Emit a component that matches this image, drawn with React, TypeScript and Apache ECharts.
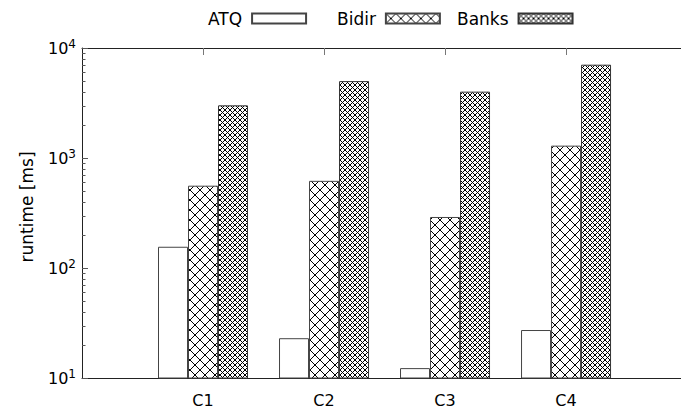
import React, { useEffect, useRef } from "react";
import * as echarts from "echarts";

const categories = ["C1", "C2", "C3", "C4"];
const categoryPositions = [1, 2, 3, 4];
const seriesNames = ["ATQ", "Bidir", "Banks"];
const atqValues = [156, 23, 12.3, 27.3];
const bidirValues = [560, 620, 291, 1295];
const banksValues = [3010, 5000, 4010, 7050];
const minorTickValues = [
  20, 30, 40, 50, 60, 70, 80, 90,
  200, 300, 400, 500, 600, 700, 800, 900,
  2000, 3000, 4000, 5000, 6000, 7000, 8000, 9000,
];
const Y_MIN = 10;
const Y_MAX = 10000;
const X_MIN = 0;
const X_MAX = 4.95;

const FONT = "DejaVu Sans";

function makeHatch(period: number) {
  const c = document.createElement("canvas");
  c.width = period;
  c.height = period;
  const ctx = c.getContext("2d")!;
  ctx.fillStyle = "#ffffff";
  ctx.fillRect(0, 0, period, period);
  ctx.strokeStyle = "#000000";
  ctx.lineWidth = 1;
  ctx.beginPath();
  for (const k of [-1, 0, 1]) {
    ctx.moveTo(k * period, 0);
    ctx.lineTo(k * period + period, period);
    ctx.moveTo(k * period + period, 0);
    ctx.lineTo(k * period, period);
  }
  ctx.stroke();
  return { image: c, repeat: "repeat", imageWidth: period, imageHeight: period };
}

export default function App() {
  const ref = useRef<HTMLDivElement>(null);
  useEffect(() => {
    document.body.style.margin = "0";
    const chart = echarts.init(ref.current!, undefined, { renderer: "svg" });
    const wide = makeHatch(10);
    const fine = makeHatch(5);
    const legendCommon = {
      top: 10,
      padding: 0,
      align: "right",
      icon: "rect",
      itemWidth: 54,
      itemHeight: 10,
      textStyle: { fontFamily: FONT, fontSize: 17, color: "#000", padding: [0, 5, 0, 0] },
    };
    const barCommon = {
      type: "bar",
      xAxisIndex: 0,
      barWidth: 30,
      barGap: "0%",
      clip: true,
    };
    const toPairs = (vals: number[]) => categoryPositions.map((x, i) => [x, vals[i]]);
    const tickLabel = (v: number) => {
      const i = categoryPositions.indexOf(v);
      return i >= 0 ? categories[i] : "";
    };
    const option: any = {
      animation: false,
      backgroundColor: "#fff",
      legend: [
        { ...legendCommon, left: 208, data: [seriesNames[0]] },
        { ...legendCommon, left: 337, data: [seriesNames[1]] },
        { ...legendCommon, left: 457, data: [seriesNames[2]] },
      ],
      grid: { left: 82, top: 48, right: 0, height: 330, containLabel: false },
      xAxis: [
        {
          type: "value",
          position: "bottom",
          min: X_MIN,
          max: X_MAX,
          interval: 1,
          axisLine: { show: true, lineStyle: { color: "#222", width: 1 } },
          axisTick: { show: false },
          splitLine: { show: false },
          axisLabel: {
            margin: 14,
            fontFamily: FONT,
            fontSize: 16,
            color: "#000",
            showMaxLabel: false,
            formatter: tickLabel,
          },
        },
        {
          type: "value",
          position: "top",
          min: X_MIN,
          max: X_MAX,
          interval: 1,
          axisLine: { show: true, onZero: false, lineStyle: { color: "#222", width: 1 } },
          axisTick: { show: false },
          splitLine: { show: false },
          axisLabel: { show: false },
        },
      ],
      yAxis: {
        type: "log",
        logBase: 10,
        min: Y_MIN,
        max: Y_MAX,
        axisLine: { show: true, lineStyle: { color: "#222", width: 1 } },
        axisTick: { show: true, inside: true, length: 6, lineStyle: { color: "#555" } },
        splitLine: { show: false },
        minorTick: { show: false },
        axisLabel: {
          margin: 6,
          formatter: (v: number) => `{b|10}{e|${Math.round(Math.log10(v))}}`,
          rich: {
            b: { fontFamily: FONT, fontSize: 16, color: "#000", lineHeight: 20 },
            e: { fontFamily: FONT, fontSize: 12, color: "#000", lineHeight: 12, verticalAlign: "top" },
          },
        },
      },
      graphic: [
        {
          type: "text",
          x: 27,
          y: 207,
          rotation: Math.PI / 2,
          style: {
            text: "runtime [ms]",
            fontFamily: FONT,
            fontSize: 17,
            fill: "#000",
            align: "center",
            verticalAlign: "middle",
          },
        },
      ],
      series: [
        {
          ...barCommon,
          name: seriesNames[0],
          data: toPairs(atqValues),
          itemStyle: { color: "#ffffff", borderColor: "#444", borderWidth: 1 },
        },
        {
          ...barCommon,
          name: seriesNames[1],
          data: toPairs(bidirValues),
          itemStyle: { color: wide, borderColor: "#444", borderWidth: 1 },
        },
        {
          ...barCommon,
          name: seriesNames[2],
          data: toPairs(banksValues),
          itemStyle: { color: fine, borderColor: "#333", borderWidth: 1 },
        },
        {
          type: "custom",
          name: "minorTicks",
          xAxisIndex: 0,
          silent: true,
          z: 5,
          data: minorTickValues.map((v) => [X_MIN, v]),
          renderItem: (params: any, api: any) => {
            const p = api.coord([X_MIN, api.value(1)]);
            const y = Math.round(p[1]) + 0.5;
            return {
              type: "line",
              shape: { x1: p[0], y1: y, x2: p[0] + 3.5, y2: y },
              style: { stroke: "#555", lineWidth: 1 },
            };
          },
        },
        {
          type: "custom",
          name: "topTicks",
          xAxisIndex: 0,
          silent: true,
          z: 5,
          data: categoryPositions.map((x) => [x, Y_MAX]),
          renderItem: (params: any, api: any) => {
            const p = api.coord([api.value(0), Y_MAX]);
            const x = Math.round(p[0]) + 0.5;
            return {
              type: "line",
              shape: { x1: x, y1: p[1], x2: x, y2: p[1] + 7 },
              style: { stroke: "#777", lineWidth: 1 },
            };
          },
        },
      ],
    };
    chart.setOption(option);
    return () => chart.dispose();
  }, []);
  return <div ref={ref} style={{ width: 681, height: 418 }} />;
}
